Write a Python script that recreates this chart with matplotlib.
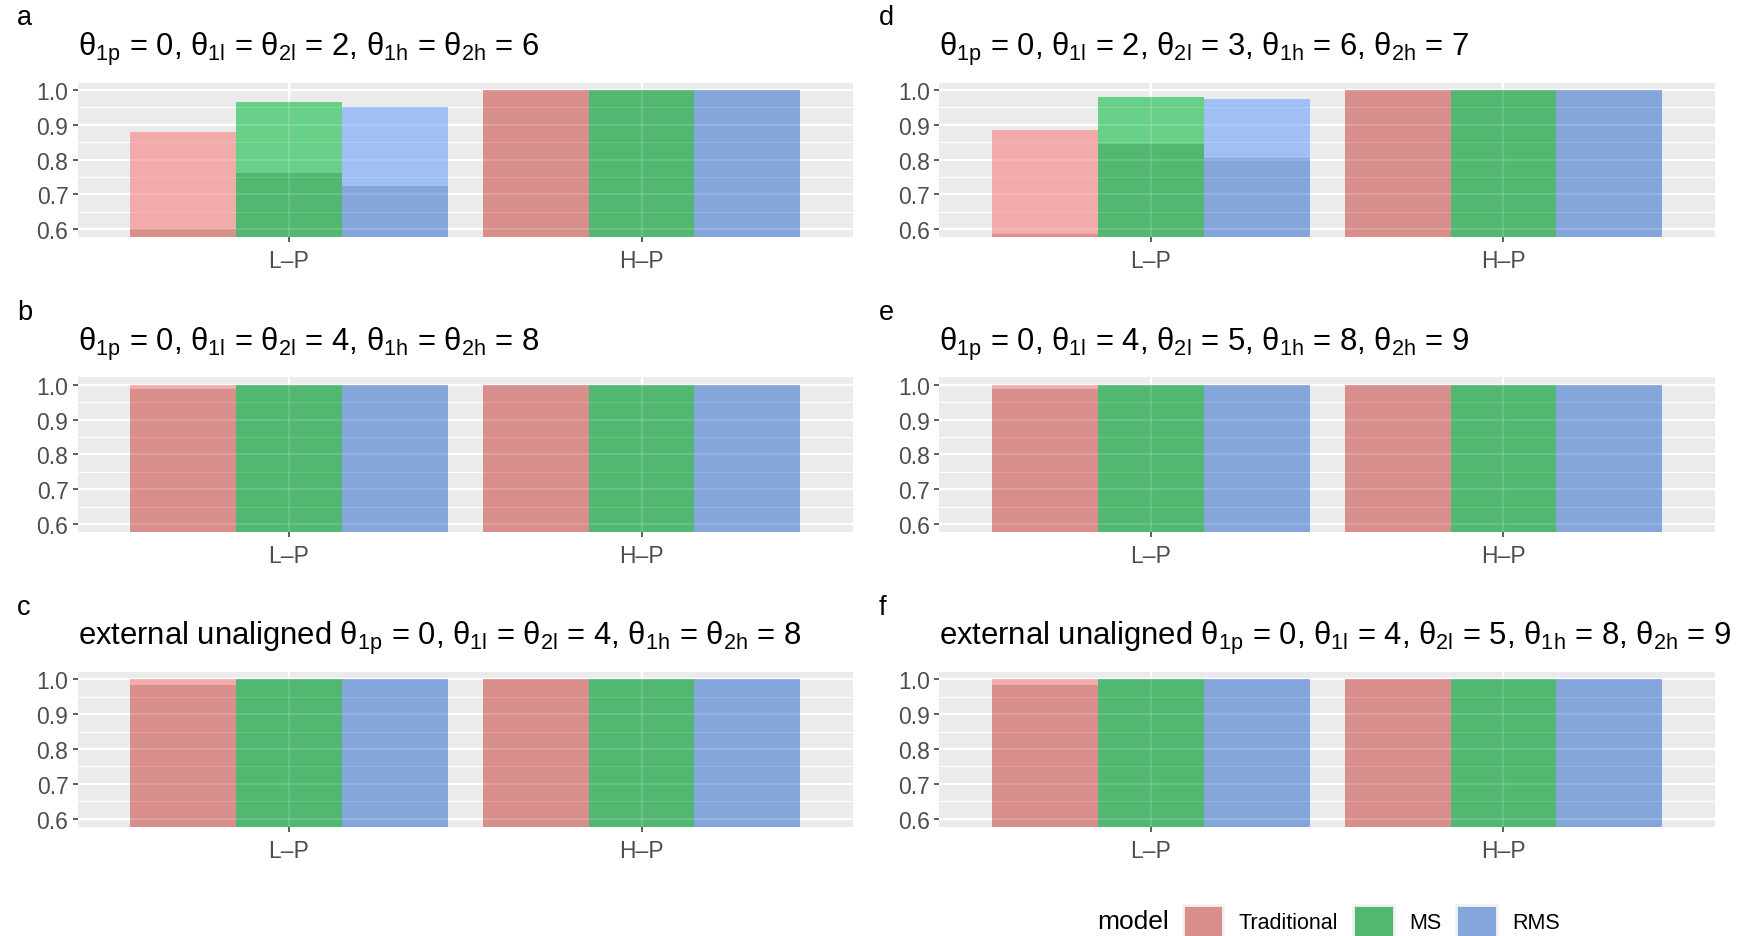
import matplotlib.pyplot as plt
import numpy as np
from matplotlib.patches import Patch

plt.rcParams['font.family'] = ['Liberation Sans', 'DejaVu Sans']
plt.rcParams['mathtext.fontset'] = 'custom'
plt.rcParams['mathtext.rm'] = 'Liberation Sans'
plt.rcParams['mathtext.it'] = 'Liberation Sans'
plt.rcParams['mathtext.default'] = 'regular'

groups = ['L–P', 'H–P']
models = ['Traditional', 'MS', 'RMS']

# light = outer bar, dark = inner bar (overlap); rows = group, cols = model
upper_a = [[0.879, 0.966, 0.951], [1.0, 1.0, 1.0]]
lower_a = [[0.601, 0.762, 0.725], [1.0, 1.0, 1.0]]
upper_b = [[1.0, 1.0, 1.0], [1.0, 1.0, 1.0]]
lower_b = [[0.988, 1.0, 1.0], [1.0, 1.0, 1.0]]
upper_c = [[1.0, 1.0, 1.0], [1.0, 1.0, 1.0]]
lower_c = [[0.985, 1.0, 1.0], [1.0, 1.0, 1.0]]
upper_d = [[0.884, 0.981, 0.975], [1.0, 1.0, 1.0]]
lower_d = [[0.586, 0.844, 0.806], [1.0, 1.0, 1.0]]
upper_e = [[1.0, 1.0, 1.0], [1.0, 1.0, 1.0]]
lower_e = [[0.988, 1.0, 1.0], [1.0, 1.0, 1.0]]
upper_f = [[1.0, 1.0, 1.0], [1.0, 1.0, 1.0]]
lower_f = [[0.985, 1.0, 1.0], [1.0, 1.0, 1.0]]

titles = {
    'a': r'$\theta_{1p}$ = 0, $\theta_{1l}$ = $\theta_{2l}$ = 2, $\theta_{1h}$ = $\theta_{2h}$ = 6',
    'b': r'$\theta_{1p}$ = 0, $\theta_{1l}$ = $\theta_{2l}$ = 4, $\theta_{1h}$ = $\theta_{2h}$ = 8',
    'c': r'external unaligned $\theta_{1p}$ = 0, $\theta_{1l}$ = $\theta_{2l}$ = 4, $\theta_{1h}$ = $\theta_{2h}$ = 8',
    'd': r'$\theta_{1p}$ = 0, $\theta_{1l}$ = 2, $\theta_{2l}$ = 3, $\theta_{1h}$ = 6, $\theta_{2h}$ = 7',
    'e': r'$\theta_{1p}$ = 0, $\theta_{1l}$ = 4, $\theta_{2l}$ = 5, $\theta_{1h}$ = 8, $\theta_{2h}$ = 9',
    'f': r'external unaligned $\theta_{1p}$ = 0, $\theta_{1l}$ = 4, $\theta_{2l}$ = 5, $\theta_{1h}$ = 8, $\theta_{2h}$ = 9',
}
panels = {
    'a': (upper_a, lower_a), 'b': (upper_b, lower_b), 'c': (upper_c, lower_c),
    'd': (upper_d, lower_d), 'e': (upper_e, lower_e), 'f': (upper_f, lower_f),
}

light_cols = ['#F1ABAA', '#69D08A', '#A0C0F5']
dark_cols = ['#D88F8C', '#52B770', '#84A6DA']

fig = plt.figure(figsize=(17.37, 9.37), dpi=100)

W, H = 1737, 937
lefts = [77.5, 939.4]
width = 775.5
tops = [83.7, 378.4, 673.1]
height = 154.6

x = np.arange(1, len(groups) + 1)
bw = 0.3
yticks = [0.6, 0.7, 0.8, 0.9, 1.0]
yminor = [0.65, 0.75, 0.85, 0.95]

for col, letters in enumerate([['a', 'b', 'c'], ['d', 'e', 'f']]):
    for row, key in enumerate(letters):
        ax = fig.add_axes([lefts[col] / W, 1 - (tops[row] + height) / H,
                           width / W, height / H])
        ax.set_facecolor('#EBEBEB')
        up, lo = panels[key]
        up = np.array(up)
        lo = np.array(lo)
        for m in range(len(models)):
            xm = x + (m - 1) * bw
            ax.bar(xm, up[:, m], width=bw, color=light_cols[m], zorder=2)
            ax.bar(xm, lo[:, m], width=bw, color=dark_cols[m], zorder=3)
        # faint grid showing through the semi-transparent bars
        for yv in yticks:
            ax.axhline(yv, color='white', alpha=0.14, linewidth=1.6, zorder=4)
        for yv in yminor:
            ax.axhline(yv, color='white', alpha=0.14, linewidth=0.8, zorder=4)
        for xv in x:
            ax.axvline(xv, color='white', alpha=0.14, linewidth=1.6, zorder=4)
        ax.set_xlim(0.4, 2.6)
        ax.set_ylim(0.577, 1.021)
        ax.set_xticks(x)
        ax.set_xticklabels(groups)
        ax.set_yticks(yticks)
        ax.set_yticklabels(['0.6', '0.7', '0.8', '0.9', '1.0'])
        ax.set_yticks(yminor, minor=True)
        ax.grid(which='major', color='white', linewidth=1.6, zorder=0)
        ax.grid(which='minor', axis='y', color='white', linewidth=0.8, zorder=0)
        ax.set_axisbelow(True)
        for s in ax.spines.values():
            s.set_visible(False)
        ax.tick_params(which='major', length=3.5, width=1.1, color='#333333',
                       labelcolor='#4D4D4D', labelsize=16.5, pad=3)
        ax.tick_params(axis='x', which='major', pad=5)
        ax.tick_params(which='minor', length=0)
        ax.set_title(titles[key], loc='left', fontsize=22.3, pad=20)
        ax.annotate(key, xy=(0, 1), xycoords='axes fraction', xytext=(-43.5, 47),
                    textcoords='offset points', ha='left', va='center', fontsize=19.5)

handles = [Patch(facecolor=c, edgecolor='#F2F2F2', linewidth=2) for c in dark_cols]
fig.legend(handles, models, loc='center left', bbox_to_anchor=(1182.5 / W, 1 - 922 / H),
           ncol=3, frameon=False, fontsize=15.5, handlelength=1.9, handleheight=1.9,
           handletextpad=0.7, columnspacing=0.7, borderpad=0, borderaxespad=0)
fig.text(1097 / W, 1 - 922 / H, 'model', fontsize=19, ha='left', va='center')

fig.savefig('out.png', dpi=100)
